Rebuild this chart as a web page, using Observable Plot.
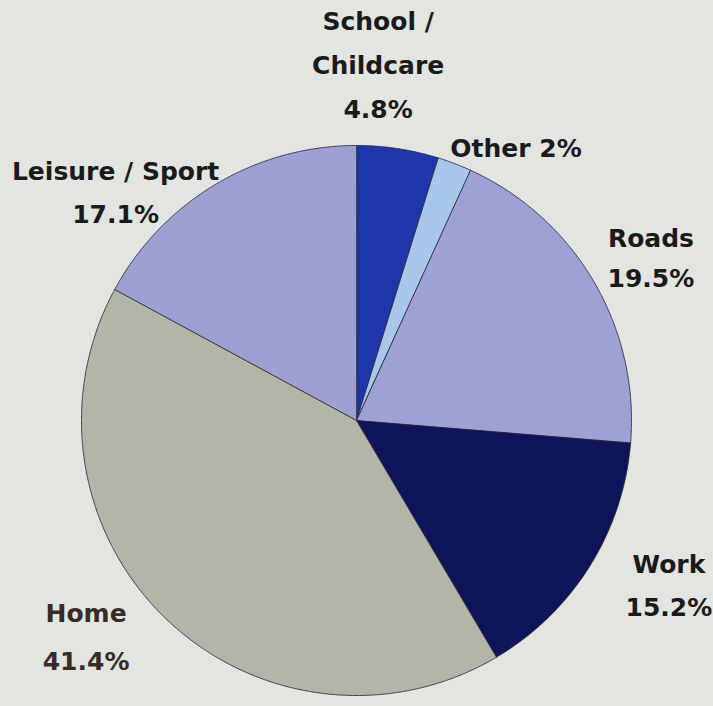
<!DOCTYPE html>
<html>
<head>
<meta charset="utf-8">
<script src="https://cdn.jsdelivr.net/npm/d3@7"></script>
<script src="https://cdn.jsdelivr.net/npm/@observablehq/plot@0.6"></script>
<style>
  html, body { margin: 0; padding: 0; background: #e3e5e1; }
  #chart { width: 713px; height: 706px; }
</style>
</head>
<body>
<div id="chart"></div>
<script>
// ---- data ----
const categories = ["School / Childcare", "Other", "Roads", "Work", "Home", "Leisure / Sport"];
const shares = [4.8, 2.0, 19.5, 15.2, 41.4, 17.1];
const labelTexts = [
  "School /\nChildcare\n4.8%",
  "Other 2%",
  "Roads\n19.5%",
  "Work\n15.2%",
  "Home\n41.4%",
  "Leisure / Sport\n17.1%"
];

// ---- styling ----
const palette = ["#1d36aa", "#a9c7eb", "#9ea1d3", "#0d145a", "#b3b5a7", "#9ea0d2"];

// slices via d3.pie (clockwise from 12 o'clock, data order)
const pie = d3.pie().sort(null).value(d => d.value)(
  categories.map((c, i) => ({cat: c, value: shares[i]}))
);

// polygon outline of each slice in unit-circle data space
const pts = [];
pie.forEach(s => {
  pts.push({cat: s.data.cat, x: 0, y: 0});
  const n = Math.max(2, Math.ceil((s.endAngle - s.startAngle) / (Math.PI / 720)));
  for (let k = 0; k <= n; k++) {
    const a = s.startAngle + (s.endAngle - s.startAngle) * k / n;
    pts.push({cat: s.data.cat, x: Math.sin(a), y: Math.cos(a)});
  }
});

// label anchors on the mid-angle of each slice
const labels = pie.map((s, i) => {
  const a = (s.startAngle + s.endAngle) / 2;
  return {cat: s.data.cat, text: labelTexts[i], x: 1.25 * Math.sin(a), y: 1.25 * Math.cos(a)};
});

const labelLayout = {
  "School / Childcare": {dx: -30, dy: -21, lineHeight: 1.76},
  "Other": {dx: 37, dy: 44, lineHeight: 1.7},
  "Roads": {dx: -2, dy: 8, lineHeight: 1.6},
  "Work": {dx: 21, dy: -22, lineHeight: 1.7},
  "Home": {dx: -32, dy: -37, lineHeight: 1.92, fill: "#3a2b27"},
  "Leisure / Sport": {dx: -65, dy: 63, lineHeight: 1.72}
};

const textMarks = labels.map(l => {
  const o = labelLayout[l.cat];
  return Plot.text([l], {
    x: "x", y: "y", text: "text",
    dx: o.dx, dy: o.dy, lineHeight: o.lineHeight,
    fontSize: 25, fontWeight: "bold",
    fill: o.fill || "#1a1a1a",
    textAnchor: "middle", lineAnchor: "middle"
  });
});

const chart = Plot.plot({
  width: 713,
  height: 706,
  marginLeft: 81,
  marginRight: 82,
  marginTop: 145,
  marginBottom: 11,
  x: {domain: [-1, 1], axis: null},
  y: {domain: [-1, 1], axis: null},
  color: {domain: categories, range: palette},
  style: {background: "#e3e5e1", fontFamily: "'DejaVu Sans', sans-serif", overflow: "visible"},
  marks: [
    Plot.line(pts, {
      x: "x", y: "y", z: "cat", fill: "cat",
      stroke: "#26263a", strokeWidth: 1, strokeOpacity: 0.85,
      curve: "linear-closed"
    }),
    ...textMarks
  ]
});
document.getElementById("chart").appendChild(chart);
</script>
</body>
</html>
